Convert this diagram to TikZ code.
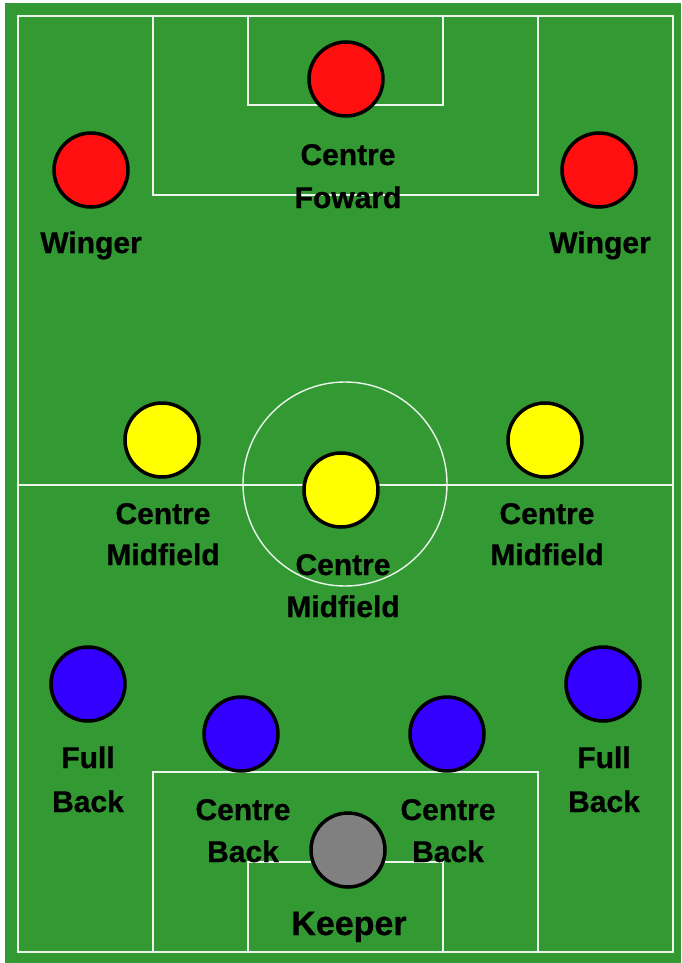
\documentclass[tikz,border=0pt]{standalone}
\usepackage{fontspec}
\setmainfont{Liberation Sans}
\newfontfamily\lblfont{Liberation Sans}[BoldFeatures={FakeBold=0.7}]
\definecolor{pitch}{RGB}{51,153,51}
\definecolor{fwd}{RGB}{255,15,15}
\definecolor{mid}{RGB}{255,255,0}
\definecolor{def}{RGB}{51,0,255}
\definecolor{gk}{RGB}{128,128,128}
\definecolor{linec}{RGB}{235,245,235}
\tikzset{
  fieldline/.style={draw=linec, line width=1.4pt},
  player/.style={circle, draw=black, line width=3.5pt, minimum size=74pt, inner sep=0pt},
  lbl/.style={anchor=base, inner sep=0pt, font=\lblfont\fontsize{30}{36}\selectfont\bfseries},
  biglbl/.style={lbl, font=\lblfont\fontsize{34}{40}\selectfont\bfseries}
}
\begin{document}
\begin{tikzpicture}[x=1pt,y=-1pt]
\useasboundingbox (0,0) rectangle (681,963);
\fill[white] (0,0) rectangle (681,963);
\fill[pitch] (5,3) rectangle (681,963);
% field lines
\draw[fieldline] (18,16) rectangle (673,952);
\draw[fieldline] (18,485) -- (673,485);
\draw[fieldline] (345,484) circle (102);
\draw[fieldline] (153,16) rectangle (538,195);
\draw[fieldline] (248,16) rectangle (443,105);
\draw[fieldline] (153,952) rectangle (538,772);
\draw[fieldline] (248,952) rectangle (443,862);
% players
\node[player, fill=fwd] (cf) at (346,79) {};
\node[player, fill=fwd] (wl) at (91,170) {};
\node[player, fill=fwd] (wr) at (599,170) {};
\node[player, fill=mid] (cml) at (162,440) {};
\node[player, fill=mid] (cmc) at (341,490) {};
\node[player, fill=mid] (cmr) at (545,440) {};
\node[player, fill=def] (fbl) at (88,684) {};
\node[player, fill=def] (cbl) at (241,734) {};
\node[player, fill=def] (cbr) at (447,734) {};
\node[player, fill=def] (fbr) at (603,684) {};
\node[player, fill=gk] (gk) at (348,850) {};
% labels
\node[lbl] (cfa) at (348,165) {Centre};
\node[lbl] (cfb) at (348,208) {Foward};
\node[lbl] (wla) at (91,253) {Winger};
\node[lbl] (wra) at (600,253) {Winger};
\node[lbl] (cmla) at (163,524) {Centre};
\node[lbl] (cmlb) at (163,565) {Midfield};
\node[lbl] (cmra) at (547,524) {Centre};
\node[lbl] (cmrb) at (547,565) {Midfield};
\node[lbl] (cmca) at (343,575) {Centre};
\node[lbl] (cmcb) at (343,617) {Midfield};
\node[lbl] (fbla) at (88,768) {Full};
\node[lbl] (fblb) at (88,812) {Back};
\node[lbl] (fbra) at (604,768) {Full};
\node[lbl] (fbrb) at (604,812) {Back};
\node[lbl] (cbla) at (243,820) {Centre};
\node[lbl] (cblb) at (243,862) {Back};
\node[lbl] (cbra) at (448,820) {Centre};
\node[lbl] (cbrb) at (448,862) {Back};
\node[biglbl] (gka) at (349,935) {Keeper};
\end{tikzpicture}
\end{document}
